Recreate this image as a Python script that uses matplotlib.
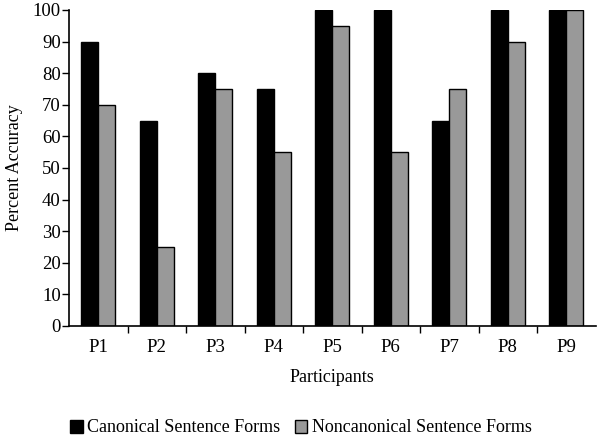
import numpy as np
import matplotlib.pyplot as plt

plt.rcParams['font.family'] = ['Liberation Serif', 'DejaVu Serif']

participants = ['P1', 'P2', 'P3', 'P4', 'P5', 'P6', 'P7', 'P8', 'P9']
canonical = [90, 65, 80, 75, 100, 100, 65, 100, 100]
noncanonical = [70, 25, 75, 55, 95, 55, 75, 90, 100]

fig = plt.figure(figsize=(6.02, 4.38), dpi=100)
ax = fig.add_axes([69 / 602, 1 - 326 / 438, 526.5 / 602, 316 / 438])

x = np.arange(len(participants))
w = 0.29
ax.bar(x - w / 2, canonical, w, color='black', edgecolor='black', linewidth=1,
       label='Canonical Sentence Forms')
ax.bar(x + w / 2, noncanonical, w, color='#999999', edgecolor='black', linewidth=1,
       label='Noncanonical Sentence Forms')

ax.set_xlim(-0.5, len(participants) - 0.5)
ax.set_ylim(0, 100)
ax.set_yticks(range(0, 101, 10))
ax.set_xticks(x)
ax.set_xticklabels(participants, fontsize=13.5)
ax.set_xticks(np.arange(0.5, len(participants) - 0.5, 1), minor=True)
ax.tick_params(axis='x', which='major', length=0, pad=9)
ax.tick_params(axis='x', which='minor', length=5, direction='out', width=1)
ax.tick_params(axis='y', length=5, direction='out', width=1, labelsize=13.5, pad=1)
for s in ['top', 'right']:
    ax.spines[s].set_visible(False)
for s in ['left', 'bottom']:
    ax.spines[s].set_linewidth(1.2)

ax.set_ylabel('Percent Accuracy', fontsize=13, labelpad=7)
ax.set_xlabel('Participants', fontsize=13, labelpad=10)

fig.legend(loc='center', bbox_to_anchor=(0.5, 1 - 428 / 438), ncol=2, frameon=False,
           fontsize=13, handlelength=0.7, handleheight=0.7, handletextpad=0.25,
           columnspacing=0.8)

fig.savefig('out.png', dpi=100)
